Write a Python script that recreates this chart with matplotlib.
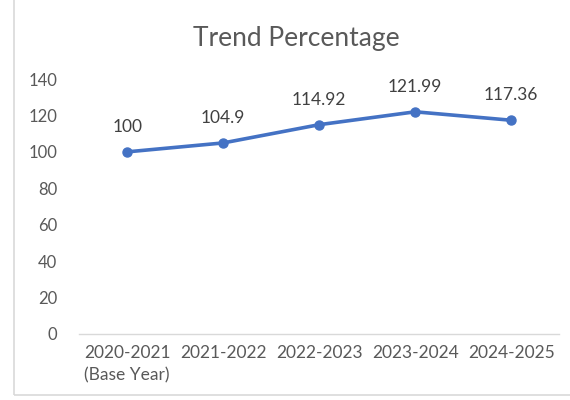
import matplotlib
matplotlib.use("Agg")
import matplotlib.pyplot as plt
from matplotlib.patches import Rectangle

# chart data
years = ["2020-2021\n(Base Year)", "2021-2022", "2022-2023", "2023-2024", "2024-2025"]
trend = [100, 104.9, 114.92, 121.99, 117.36]
value_labels = ["100", "104.9", "114.92", "121.99", "117.36"]
y_ticks = [0, 20, 40, 60, 80, 100, 120, 140]

plt.rcParams['font.family'] = ['Lato', 'DejaVu Sans']

fig = plt.figure(figsize=(5.7, 4.0), dpi=100)
fig.patch.set_facecolor("white")

# light frame of the chart area (top/right run off the picture)
fig.patches.append(Rectangle((14 / 570, 5 / 400), 1.0, 1.0, transform=fig.transFigure,
                             fill=False, edgecolor="#d9d9d9", linewidth=1.2))

ax = fig.add_axes([0.139, 0.165, 0.842, 0.6375])
x = list(range(len(years)))
ax.plot(x, trend, color="#4472C4", linewidth=2.6, marker="o", markersize=6.5)

for xi, yi, lab in zip(x, trend, value_labels):
    ax.annotate(lab, (xi, yi), xytext=(0, 18), textcoords="offset points",
                ha="center", va="center", fontsize=12.5, color="#404040")

ax.set_xlim(-0.5, len(years) - 0.5)
ax.set_ylim(0, 140)
ax.set_yticks(y_ticks)
ax.set_xticks(x)
ax.set_xticklabels(years, fontsize=12.5, color="#595959", multialignment="center",
                   linespacing=1.45)
ax.tick_params(axis="y", labelsize=12, labelcolor="#595959", length=0, pad=16)
ax.tick_params(axis="x", length=0, pad=8)

for s in ["top", "right", "left"]:
    ax.spines[s].set_visible(False)
ax.spines["bottom"].set_color("#d9d9d9")
ax.spines["bottom"].set_linewidth(1.0)

fig.text(0.52, 0.903, "Trend Percentage", ha="center", va="center",
         fontsize=19, color="#595959")

fig.savefig("out.png", dpi=100)
